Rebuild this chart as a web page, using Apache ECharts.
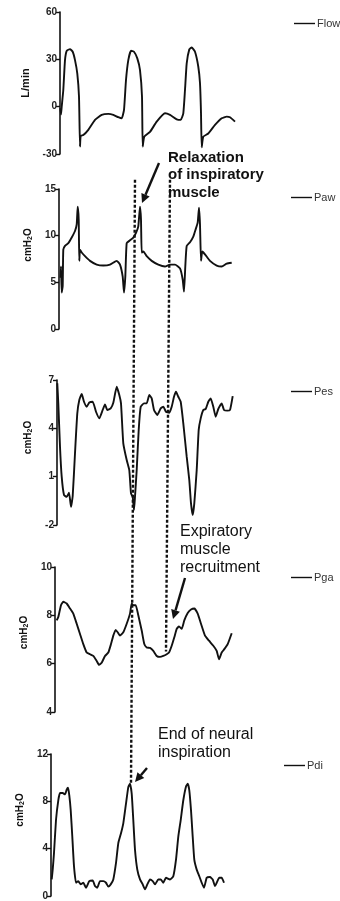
<!DOCTYPE html>
<html>
<head>
<meta charset="utf-8">
<script src="https://cdn.jsdelivr.net/npm/echarts@6/dist/echarts.min.js"></script>
<style>
html, body { margin: 0; background: #fff; }
#chart { width: 340px; height: 901px; }
</style>
</head>
<body>
<div id="chart"></div>
<script>
// traces: [time, value], time in arbitrary units along the sweep
var flowData = [[0.3,-1],[1,-5],[1.7,0],[3.3,10.6],[5,29.5],[6.7,35.4],[10,36.5],[12.7,34.8],[15,29.5],[17.3,21],[19,6.3],[20,-25.3],[20.7,-18.5],[23.3,-18],[28.3,-14.7],[35,-8.4],[41.7,-5.2],[48.3,-4.6],[53.3,-5.2],[58.3,-6.7],[61.7,-7.4],[64,-2],[66,16.9],[68.3,29.5],[71,35.4],[74,34.8],[77.3,30.6],[80,23.2],[82,6.3],[82.7,-25.3],[84.3,-19],[90,-16],[96.7,-9.5],[105,-4.2],[110,-5.2],[116.7,-8],[120.7,-8.4],[123.3,-4.2],[125,10.6],[126.7,27.4],[129.3,36.3],[131.7,37.5],[135,34.8],[138.3,25.3],[140,14.8],[141,-4],[141.7,-25.7],[143.3,-19],[148.3,-17],[155,-11.6],[161.7,-7.4],[166.7,-6.3],[170,-6.7],[175,-9.5]];

var pawData = [[1.5,5.5],[2,6.7],[2.7,3.9],[3.7,4.6],[4.3,8.5],[6,8.9],[9.3,9.2],[12.7,9.8],[16,10.5],[17.7,11.2],[18.7,13.1],[19.7,11.7],[20.3,7.3],[21,8.5],[22.7,8.2],[26,7.8],[31,7.3],[37.7,6.9],[44.3,6.8],[51,6.9],[57.7,7.3],[61,6.9],[63.7,5.6],[65,3.9],[66.3,5.6],[67.7,9.2],[71,9.5],[74.3,9.8],[77,10.3],[79.3,11],[81,13.1],[82,11.7],[82.7,8.2],[84.3,8.3],[87.7,7.8],[92.7,7.3],[99.3,6.9],[106,6.7],[111,6.9],[116,6.9],[121,6.5],[123.7,5.3],[125,4],[126.3,6.7],[127.7,8.9],[131,9.3],[134.3,9.9],[136.7,10.7],[138.7,11.4],[140,13],[141,11.2],[142,7.3],[143.3,8.3],[146,8],[151,7.3],[157.7,6.8],[162.7,6.7],[167.7,7],[172.7,7.1]];

var pesData = [[0.3,6.8],[1.3,5.55],[3,2.86],[4.7,1.0],[7,-0.14],[9.7,-0.25],[12,0.0],[14,-0.87],[15.7,-0.2],[18,2.45],[20.3,4.93],[22.3,5.76],[24.7,6.13],[27,5.65],[29.7,5.34],[32.3,5.6],[35.7,5.65],[39,5.03],[42.3,4.62],[45.7,5.14],[48,5.49],[50.3,5.14],[53.7,5.24],[56.3,5.59],[59.7,6.58],[62.3,6.07],[64,5.55],[66.3,3.07],[69.7,2.03],[72.3,1.41],[74,-0.04],[75.7,-0.25],[77,-1.07],[78,-0.25],[79.7,1.41],[81.7,3.9],[83.7,5.34],[87,5.55],[89.7,5.55],[92.3,6.07],[94.7,5.86],[97,5.14],[100.3,4.83],[103.7,5.24],[106.3,5.34],[109,5.03],[112.3,4.97],[114.7,5.34],[117,5.96],[119,6.27],[121.3,5.96],[123.7,5.65],[126.3,4.31],[129.7,2.24],[132.3,0.79],[134,-0.66],[135.7,-1.38],[137.3,-0.66],[139.7,1.41],[141.7,3.9],[143.7,4.62],[146.3,5.14],[148.7,5.2],[151.3,5.65],[153.7,5.86],[156.3,5.34],[158.7,4.72],[161.3,5.2],[164.7,5.55],[167,5.14],[170.3,5.1],[173,5.14],[175.7,6.0]];

var pgaData = [[1.7,7.79],[3.3,7.93],[6,8.42],[8.3,8.56],[11.7,8.49],[15,8.28],[18.3,8.07],[21.7,7.65],[25,7.23],[28.3,6.81],[31.7,6.46],[35,6.39],[38.3,6.32],[41.7,6.11],[44,5.95],[46.7,6.04],[50,6.32],[53.3,6.46],[56,6.81],[58.3,7.16],[60.7,7.4],[62.7,7.3],[65,7.16],[68.3,7.3],[71.7,7.65],[75,8.07],[76.7,8.49],[78.3,8.42],[80.7,8.42],[83.3,8.0],[86.7,7.37],[89.3,6.81],[91.7,6.67],[95,6.65],[98.3,6.53],[101.7,6.32],[105,6.28],[108.3,6.32],[111.7,6.39],[114,6.46],[116.7,6.74],[119.3,7.09],[121.7,7.44],[124,7.54],[126.7,7.44],[129.3,7.79],[132.7,8.1],[136,8.24],[139.3,8.28],[142.7,8.07],[146,7.65],[150,7.16],[154,6.95],[158.3,6.74],[161.7,6.53],[164,6.18],[166.7,6.46],[169.3,6.6],[172.7,6.81],[176.7,7.26]];

var pdiData = [[0.7,1.4],[1.7,2.23],[3,3.63],[5,6.42],[7.3,8.09],[9,8.7],[11.7,8.7],[14,8.59],[15.7,8.99],[17,9.15],[18.3,8.51],[19.7,7.26],[21.3,5.02],[23,2.51],[25,1.12],[27.3,1.26],[29.7,0.98],[32.3,1.12],[35,0.7],[38.3,1.26],[41.7,1.31],[44,0.84],[46.3,0.7],[49,1.26],[52.3,1.26],[55,1.12],[57.3,0.79],[59.7,0.98],[62.3,1.4],[65,2.79],[67.3,4.47],[70,5.3],[72.3,6.14],[75,7.81],[77.3,9.2],[79,9.49],[80.7,8.65],[82.3,6.42],[84,3.91],[86.3,2.23],[89,1.4],[91.7,0.98],[94,0.56],[96.3,0.98],[99,1.4],[101.7,1.26],[104,0.98],[107.3,1.4],[109.7,1.4],[112.3,1.12],[115,1.54],[119,1.4],[122.3,1.67],[125,3.07],[127.3,5.02],[129.7,6.42],[132.3,8.09],[135,9.26],[136.7,9.49],[138.3,8.93],[140,7.26],[141.7,5.02],[143.3,3.07],[145.7,2.23],[148.3,1.67],[150.7,1.12],[153,0.7],[155.7,1.54],[159,1.6],[161.7,1.4],[164,0.84],[165.7,1.12],[168.3,1.54],[170.7,1.54],[173,1.12]];

// y ranges / tick steps
var seriesNames = ['Flow', 'Paw', 'Pes', 'Pga', 'Pdi'];
var unitNames = ['L/min', 'cmH{sub|2}O', 'cmH{sub|2}O', 'cmH{sub|2}O', 'cmH{sub|2}O'];
var yMins = [-30, 0, -2, 4, 0];
var yMaxs = [60, 15, 7, 10, 12];
var yIntervals = [30, 5, 3, 2, 4];

// dotted event markers: [time, value] on the panel where they start / end
var relaxTop = [76, 16];   // Paw panel
var relaxEnd = [80, 9.5];  // Pdi panel
var recruitTop = [111, 16];  // Paw panel
var recruitEnd = [111, 6.5]; // Pga panel

var traces = [flowData, pawData, pesData, pgaData, pdiData];

// layout per panel (the scan is slightly skewed, so the axes drift left)
var layout = [
  { left: 60, top: 12,  height: 142, legendLeft: 294, legendTop: 18,  namePad: 0 },
  { left: 59, top: 189, height: 140, legendLeft: 291, legendTop: 192, namePad: 28 },
  { left: 57, top: 380, height: 145, legendLeft: 291, legendTop: 386, namePad: 30 },
  { left: 55, top: 567, height: 145, legendLeft: 291, legendTop: 572, namePad: 14 },
  { left: 51, top: 754, height: 143, legendLeft: 284, legendTop: 760, namePad: 30 }
];

var FONT = 'Liberation Sans, Arial, sans-serif';

var grid = [], xAxis = [], yAxis = [], series = [], legend = [];
layout.forEach(function (p, i) {
  grid.push({ left: p.left, top: p.top, width: 180, height: p.height });
  xAxis.push({ type: 'value', gridIndex: i, min: 0, max: 180, show: false });
  yAxis.push({
    type: 'value', gridIndex: i,
    min: yMins[i], max: yMaxs[i], interval: yIntervals[i],
    name: unitNames[i], nameLocation: 'middle', nameRotate: 90, nameGap: 23,
    nameTextStyle: {
      fontFamily: FONT, fontSize: i === 0 ? 11 : 10, fontWeight: 'bold', color: '#111',
      padding: [0, 0, 0, p.namePad],
      rich: { sub: { fontFamily: FONT, fontSize: 7, fontWeight: 'bold', color: '#111', verticalAlign: 'bottom', padding: [5, 0, 0, 0] } }
    },
    axisLine: { show: true, lineStyle: { color: '#111', width: 1.6 } },
    axisTick: { show: true, length: 4, lineStyle: { color: '#111', width: 1.4 } },
    axisLabel: { fontFamily: FONT, fontSize: 10, fontWeight: 'bold', color: '#222', margin: 3 },
    splitLine: { show: false }
  });
  series.push({
    name: seriesNames[i], type: 'line', xAxisIndex: i, yAxisIndex: i,
    data: traces[i], showSymbol: false, smooth: 0.15,
    lineStyle: { color: '#111', width: 1.9 }, itemStyle: { color: '#111' },
    animation: false
  });
  legend.push({
    data: [seriesNames[i]], left: p.legendLeft, top: p.legendTop,
    icon: 'rect', itemWidth: 21, itemHeight: 1.4, padding: 0,
    textStyle: { fontFamily: FONT, fontSize: 11, color: '#333', padding: [0, 0, 0, -3] },
    selectedMode: false
  });
});

var chart = echarts.init(document.getElementById('chart'), null, { renderer: 'canvas' });
chart.setOption({
  backgroundColor: '#fff',
  animation: false,
  grid: grid, xAxis: xAxis, yAxis: yAxis, series: series, legend: legend
});

function arrow(x1, y1, x2, y2) {
  var a = Math.atan2(y2 - y1, x2 - x1), L = 9, W = 4.5;
  var bx = x2 - L * Math.cos(a), by = y2 - L * Math.sin(a);
  var nx = -Math.sin(a), ny = Math.cos(a);
  return [
    { type: 'line', shape: { x1: x1, y1: y1, x2: bx, y2: by }, style: { stroke: '#111', lineWidth: 2.4 }, z: 10 },
    { type: 'polygon', shape: { points: [[x2, y2], [bx + nx * W, by + ny * W], [bx - nx * W, by - ny * W]] }, style: { fill: '#111' }, z: 10 }
  ];
}
function dotted(p1, p2) {
  return { type: 'line', shape: { x1: p1[0], y1: p1[1], x2: p2[0], y2: p2[1] },
    style: { stroke: '#111', lineWidth: 2.4, lineDash: [3, 2] }, z: 9 };
}
function label(x, y, text, bold) {
  return { type: 'text', x: x, y: y, z: 11,
    style: { text: text, fill: '#111', font: (bold ? 'bold ' : '') + '16px ' + FONT, lineHeight: 18, textVerticalAlign: 'top' } };
}

var relaxA = chart.convertToPixel({ gridIndex: 1 }, relaxTop);
var relaxB = chart.convertToPixel({ gridIndex: 4 }, relaxEnd);
var recA = chart.convertToPixel({ gridIndex: 1 }, recruitTop);
var recB = chart.convertToPixel({ gridIndex: 3 }, recruitEnd);

var g = [dotted(relaxA, relaxB), dotted(recA, recB)];
g.push({ type: 'text', x: 168, y: 149, z: 11,
  style: { text: 'Relaxation\nof inspiratory\nmuscle', fill: '#111', font: 'bold 15px ' + FONT, lineHeight: 17.5 } });
g.push(label(180, 523, 'Expiratory\nmuscle\nrecruitment', false));
g.push(label(158, 726, 'End of neural\ninspiration', false));
g = g.concat(arrow(159, 163, 142, 203), arrow(185, 578, 173, 619), arrow(147, 768, 135, 782));

chart.setOption({ graphic: g });
</script>
</body>
</html>
